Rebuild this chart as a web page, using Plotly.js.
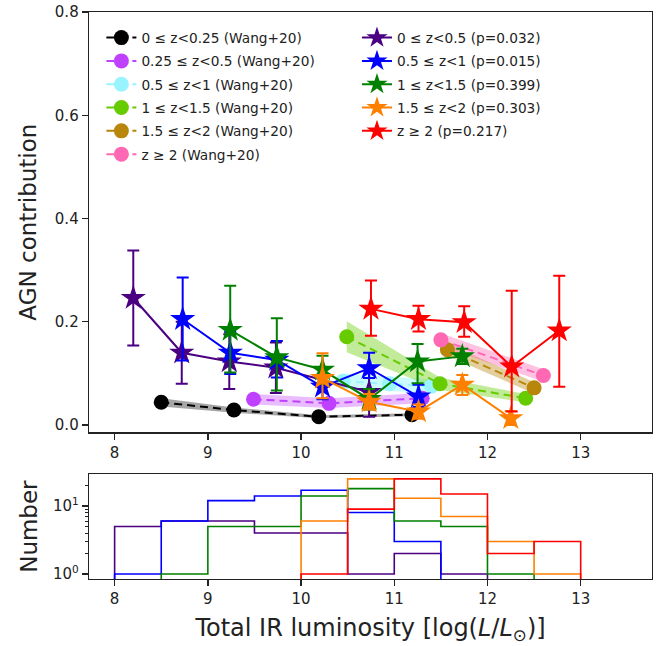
<!DOCTYPE html>
<html>
<head>
<meta charset="utf-8">
<script src="https://cdn.plot.ly/plotly-3.0.1.min.js"></script>
<style>html,body{margin:0;padding:0;background:#fff;}#chart{width:670px;height:646px;}</style>
</head>
<body>
<div id="chart"></div>
<script>
// ---------- Wang+20 data (circles, dashed lines, bands) ----------
const wangNames = ['0 ≤ z<0.25 (Wang+20)', '0.25 ≤ z<0.5 (Wang+20)', '0.5 ≤ z<1 (Wang+20)',
                   '1 ≤ z<1.5 (Wang+20)', '1.5 ≤ z<2 (Wang+20)', 'z ≥ 2 (Wang+20)'];
const wangColors = ['#000000', '#bf40ff', '#98f5ff', '#66cc00', '#b8860b', '#ff69b4'];
const wangBands = ['rgba(0,0,0,0.35)', 'rgba(191,64,255,0.35)', 'rgba(152,245,255,0.5)',
                   'rgba(102,204,0,0.4)', 'rgba(184,134,11,0.4)', 'rgba(255,105,180,0.4)'];
const wang0X = [8.50, 9.28, 10.19, 11.19];
const wang0Y = [0.044, 0.029, 0.016, 0.020];
const wang0Lo = [0.036, 0.024, 0.013, 0.017];
const wang0Hi = [0.052, 0.034, 0.019, 0.023];
const wang1X = [9.49, 10.30, 11.30];
const wang1Y = [0.050, 0.042, 0.052];
const wang1Lo = [0.040, 0.033, 0.042];
const wang1Hi = [0.060, 0.052, 0.062];
const wang2X = [10.45, 10.95, 11.40];
const wang2Y = [0.085, 0.080, 0.075];
const wang2Lo = [0.070, 0.066, 0.062];
const wang2Hi = [0.100, 0.094, 0.088];
const wang3X = [10.49, 11.49, 12.41];
const wang3Y = [0.171, 0.080, 0.052];
const wang3Lo = [0.141, 0.068, 0.044];
const wang3Hi = [0.201, 0.092, 0.060];
const wang4X = [11.57, 12.50];
const wang4Y = [0.146, 0.072];
const wang4Lo = [0.134, 0.061];
const wang4Hi = [0.158, 0.083];
const wang5X = [11.50, 12.60];
const wang5Y = [0.165, 0.096];
const wang5Lo = [0.152, 0.084];
const wang5Hi = [0.178, 0.108];

// ---------- This work (stars with error bars) ----------
const starNames = ['0 ≤ z<0.5 (p=0.032)', '0.5 ≤ z<1 (p=0.015)', '1 ≤ z<1.5 (p=0.399)',
                   '1.5 ≤ z<2 (p=0.303)', 'z ≥ 2 (p=0.217)'];
const starColors = ['#4b0082', '#0000ff', '#008000', '#ff8000', '#ff0000'];
const star0X = [8.20, 8.72, 9.23, 9.73, 10.73];
const star0Y = [0.246, 0.140, 0.123, 0.111, 0.064];
const star0Hi = [0.338, 0.200, 0.176, 0.160, 0.115];
const star0Lo = [0.154, 0.080, 0.070, 0.062, 0.016];
const star1X = [8.73, 9.24, 9.74, 10.23, 10.73, 11.26];
const star1Y = [0.205, 0.140, 0.126, 0.074, 0.110, 0.055];
const star1Hi = [0.286, 0.180, 0.163, 0.098, 0.140, 0.078];
const star1Lo = [0.125, 0.099, 0.092, 0.050, 0.091, 0.035];
const star2X = [9.24, 9.74, 10.23, 10.73, 11.25, 11.73];
const star2Y = [0.184, 0.131, 0.107, 0.050, 0.123, 0.133];
const star2Hi = [0.270, 0.207, 0.134, 0.070, 0.157, 0.148];
const star2Lo = [0.102, 0.067, 0.080, 0.030, 0.081, 0.118];
const star3X = [10.23, 10.73, 11.26, 11.73, 12.25];
const star3Y = [0.091, 0.045, 0.026, 0.078, 0.013];
const star3Hi = [0.139, 0.060, 0.040, 0.097, 0.027];
const star3Lo = [0.052, 0.030, 0.012, 0.058, 0.000];
const star4X = [10.75, 11.26, 11.75, 12.26, 12.77];
const star4Y = [0.225, 0.205, 0.199, 0.113, 0.183];
const star4Hi = [0.280, 0.231, 0.230, 0.260, 0.289];
const star4Lo = [0.173, 0.181, 0.171, 0.026, 0.074];

// ---------- Histogram counts (bins of 0.5 from 8 to 13) ----------
const binEdges = [8, 8.5, 9, 9.5, 10, 10.5, 11, 11.5, 12, 12.5, 13];
const hist0 = [5, 6, 6, 4, 4, 1, 2, 1, 0, 0];
const hist1 = [1, 6, 12, 14, 17, 8, 3, 0, 0, 0];
const hist2 = [0, 1, 5, 5, 14, 18, 6, 5, 1, 0];
const hist3 = [0, 0, 0, 0, 6, 25, 13, 7, 3, 1];
const hist4 = [0, 0, 0, 0, 1, 9, 25, 15, 2, 3];

const FONT = 'DejaVu Sans, Verdana, sans-serif';
const traces = [];

const wangSets = [
  [wang0X, wang0Y, wang0Lo, wang0Hi], [wang1X, wang1Y, wang1Lo, wang1Hi],
  [wang2X, wang2Y, wang2Lo, wang2Hi], [wang3X, wang3Y, wang3Lo, wang3Hi],
  [wang4X, wang4Y, wang4Lo, wang4Hi], [wang5X, wang5Y, wang5Lo, wang5Hi]];
wangSets.forEach(function (s, i) {
  const x = s[0], y = s[1], lo = s[2], hi = s[3];
  traces.push({
    x: x.concat(x.slice().reverse()), y: hi.concat(lo.slice().reverse()),
    type: 'scatter', mode: 'lines', fill: 'toself', fillcolor: wangBands[i],
    line: {width: 0}, hoverinfo: 'skip', showlegend: false, xaxis: 'x', yaxis: 'y'
  });
});
wangSets.forEach(function (s, i) {
  traces.push({
    x: s[0], y: s[1], name: wangNames[i], type: 'scatter', mode: 'lines+markers',
    line: {color: wangColors[i], width: 2, dash: '8px,5px'},
    marker: {color: wangColors[i], size: 15, symbol: 'circle'},
    legend: 'legend', legendgroup: 'w' + i, xaxis: 'x', yaxis: 'y'
  });
});

const starSets = [
  [star0X, star0Y, star0Lo, star0Hi], [star1X, star1Y, star1Lo, star1Hi],
  [star2X, star2Y, star2Lo, star2Hi], [star3X, star3Y, star3Lo, star3Hi],
  [star4X, star4Y, star4Lo, star4Hi]];
starSets.forEach(function (s, i) {
  const y = s[1];
  traces.push({
    x: s[0], y: y, name: starNames[i], type: 'scatter', mode: 'lines+markers',
    line: {color: starColors[i], width: 2},
    marker: {color: starColors[i], size: 19, symbol: 'star'},
    error_y: {type: 'data', symmetric: false,
              array: s[3].map(function (v, k) { return v - y[k]; }),
              arrayminus: y.map(function (v, k) { return v - s[2][k]; }),
              color: starColors[i], thickness: 2, width: 6},
    legend: 'legend2', legendgroup: 's' + i, xaxis: 'x', yaxis: 'y'
  });
});

const hists = [hist0, hist1, hist2, hist3, hist4];
const FLOOR = 0.3;
hists.forEach(function (h, i) {
  const xs = [binEdges[0]], ys = [FLOOR];
  h.forEach(function (c, k) { xs.push(binEdges[k]); ys.push(c > 0 ? c : FLOOR); });
  xs.push(binEdges[binEdges.length - 1]); ys.push(h[h.length - 1] > 0 ? h[h.length - 1] : FLOOR);
  xs.push(binEdges[binEdges.length - 1]); ys.push(FLOOR);
  traces.push({
    x: xs, y: ys, type: 'scatter', mode: 'lines', line: {color: starColors[i], width: 1.6, shape: 'hv'},
    showlegend: false, hoverinfo: 'skip', xaxis: 'x2', yaxis: 'y2'
  });
});

const XR = [7.725, 13.765];
const axisCommon = {
  showline: true, mirror: true, linecolor: '#222', linewidth: 1.3,
  ticks: 'outside', ticklen: 6, tickwidth: 1.3, tickcolor: '#222',
  showgrid: false, zeroline: false, tickfont: {family: FONT, size: 15, color: '#222'}
};

const layout = {
  width: 670, height: 646,
  margin: {l: 89, r: 18, t: 12, b: 67},
  paper_bgcolor: '#fff', plot_bgcolor: '#fff',
  font: {family: FONT, color: '#222'},
  xaxis: Object.assign({}, axisCommon, {
    range: XR, tickvals: [8, 9, 10, 11, 12, 13], anchor: 'y', domain: [0, 1]
  }),
  yaxis: Object.assign({}, axisCommon, {
    range: [-0.0141, 0.8], tickvals: [0, 0.2, 0.4, 0.6, 0.8], tickformat: '.1f',
    domain: [0.2587, 1], anchor: 'x',
    title: {text: 'AGN contribution', font: {family: FONT, size: 23, color: '#222'}, standoff: 11}
  }),
  xaxis2: Object.assign({}, axisCommon, {
    range: XR, tickvals: [8, 9, 10, 11, 12, 13], anchor: 'y2', domain: [0, 1],
    title: {text: 'Total IR luminosity [log(<i>L</i>/<i>L</i><sub>⊙</sub>)]', font: {family: FONT, size: 24, color: '#222'}, standoff: 12}
  }),
  yaxis2: Object.assign({}, axisCommon, {
    type: 'log', range: [-0.074, 1.466], domain: [0, 0.1847], anchor: 'x2',
    tickmode: 'array', tickvals: [1, 10], ticktext: ['10<sup>0</sup>', '10<sup>1</sup>'],
    minor: {tickmode: 'array', tickvals: [2, 3, 4, 5, 6, 7, 8, 9, 20], ticks: 'outside', ticklen: 3, tickwidth: 1, tickcolor: '#222'},
    title: {text: 'Number', font: {family: FONT, size: 23, color: '#222'}, standoff: 9}
  }),
  legend: {
    x: 0.022, y: 0.982, xanchor: 'left', yanchor: 'top', bgcolor: 'rgba(255,255,255,0)',
    font: {family: FONT, size: 13.7, color: '#222'}, itemwidth: 30, tracegroupgap: 2.5
  },
  legend2: {
    x: 0.476, y: 0.982, xanchor: 'left', yanchor: 'top', bgcolor: 'rgba(255,255,255,0)',
    font: {family: FONT, size: 13.7, color: '#222'}, itemwidth: 30, tracegroupgap: 2.5
  }
};

Plotly.newPlot('chart', traces, layout, {displayModeBar: false, staticPlot: true});
</script>
</body>
</html>
